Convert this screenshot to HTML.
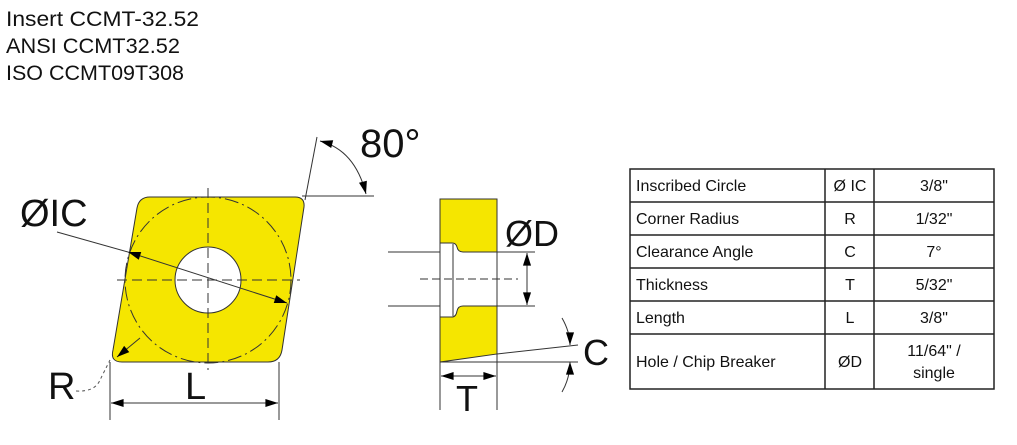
<!DOCTYPE html>
<html><head><meta charset="utf-8"><style>
html,body{margin:0;padding:0;background:#fff;width:1017px;height:445px;overflow:hidden}
svg{display:block}
</style></head><body>
<svg width="1017" height="445" viewBox="0 0 1017 445" xmlns="http://www.w3.org/2000/svg" font-family="Liberation Sans, DejaVu Sans, sans-serif">
<defs>
<marker id="a" viewBox="0 0 14 10" refX="14" refY="5" markerWidth="14" markerHeight="9" orient="auto-start-reverse" markerUnits="userSpaceOnUse"><path d="M0,0.5 L14,5 L0,9.5 z" fill="#000"/></marker>
</defs>
<g font-size="21" fill="#111">
<text x="6" y="26" textLength="193" lengthAdjust="spacingAndGlyphs">Insert CCMT-32.52</text>
<text x="6" y="53" textLength="174" lengthAdjust="spacingAndGlyphs">ANSI CCMT32.52</text>
<text x="6" y="80" textLength="178" lengthAdjust="spacingAndGlyphs">ISO CCMT09T308</text>
</g>
<!-- insert top view -->
<path d="M150,197 L295,197 Q305,197 304,207 L282,350 Q280,362 268,362 L122,362 Q110,362 113,350 L137,208 Q139,197 150,197 Z" fill="#f5e600" stroke="#333" stroke-width="1"/>
<circle cx="208" cy="280" r="83" fill="none" stroke="#333" stroke-width="1" stroke-dasharray="14,4,2,4"/>
<circle cx="208" cy="280" r="33" fill="#fff" stroke="#333" stroke-width="1"/>
<line x1="117" y1="280" x2="300" y2="280" stroke="#333" stroke-dasharray="10,5"/>
<line x1="208" y1="188" x2="208" y2="370" stroke="#333" stroke-dasharray="10,5"/>
<line x1="57" y1="232" x2="128" y2="252" stroke="#333"/>
<line x1="128" y1="252" x2="287" y2="303" stroke="#333" marker-start="url(#a)" marker-end="url(#a)"/>
<text x="20" y="226" font-size="38" fill="#111">ØIC</text>
<!-- R -->
<line x1="140" y1="338" x2="117" y2="357" stroke="#333" marker-end="url(#a)"/>
<path d="M76,391 Q95,392 100,380 Q104,372 110,360" fill="none" stroke="#555" stroke-dasharray="3,3"/>
<text x="48" y="399" font-size="38" fill="#111">R</text>
<!-- L -->
<line x1="110" y1="362" x2="110" y2="420" stroke="#333"/>
<line x1="279" y1="362" x2="279" y2="420" stroke="#333"/>
<line x1="111" y1="403" x2="278" y2="403" stroke="#333" marker-start="url(#a)" marker-end="url(#a)"/>
<text x="185" y="399" font-size="38" fill="#111">L</text>
<!-- 80 degrees -->
<line x1="305" y1="200" x2="317" y2="137" stroke="#333"/>
<line x1="302" y1="196" x2="374" y2="196" stroke="#333"/>
<path d="M320,141 Q355,150 366,194" fill="none" stroke="#333" marker-start="url(#a)" marker-end="url(#a)"/>
<text x="360" y="157" font-size="40" fill="#111">80°</text>
<!-- side view -->
<path d="M440,199 L497,199 L497,354 L440,362 Z" fill="#f5e600" stroke="#333"/>
<path d="M440,243 L452,243 Q456,243 457,247 Q458,252 463,252 L497,252 L497,306 L463,306 Q458,306 457,311 Q456,317 452,317 L440,317 Z" fill="#fff" stroke="#333"/>
<line x1="453" y1="244" x2="453" y2="316" stroke="#333"/>
<line x1="388" y1="252" x2="440" y2="252" stroke="#333"/>
<line x1="388" y1="306" x2="440" y2="306" stroke="#333"/>
<line x1="497" y1="252" x2="535" y2="252" stroke="#333"/>
<line x1="497" y1="306" x2="535" y2="306" stroke="#333"/>
<line x1="420" y1="279" x2="518" y2="279" stroke="#333" stroke-dasharray="8,4"/>
<line x1="527" y1="253" x2="527" y2="305" stroke="#333" marker-start="url(#a)" marker-end="url(#a)"/>
<text x="505" y="246" font-size="36" fill="#111">ØD</text>
<!-- C -->
<line x1="497" y1="354" x2="578" y2="345" stroke="#333"/>
<line x1="440" y1="362" x2="578" y2="362" stroke="#333"/>
<path d="M562,318 Q570,332 570,345" fill="none" stroke="#333" marker-end="url(#a)"/>
<path d="M562,392 Q570,378 570,362" fill="none" stroke="#333" marker-end="url(#a)"/>
<text x="583" y="365" font-size="36" fill="#111">C</text>
<!-- T -->
<line x1="440" y1="362" x2="440" y2="410" stroke="#333"/>
<line x1="497" y1="354" x2="497" y2="410" stroke="#333"/>
<line x1="441" y1="376" x2="496" y2="376" stroke="#333" marker-start="url(#a)" marker-end="url(#a)"/>
<text x="456" y="411" font-size="36" fill="#111">T</text>
<!-- table -->
<g stroke="#222" stroke-width="1.5" fill="none">
<rect x="630" y="169" width="364" height="220"/>
<line x1="630" y1="202" x2="994" y2="202"/>
<line x1="630" y1="235" x2="994" y2="235"/>
<line x1="630" y1="268" x2="994" y2="268"/>
<line x1="630" y1="301" x2="994" y2="301"/>
<line x1="630" y1="334" x2="994" y2="334"/>
<line x1="825" y1="169" x2="825" y2="389"/>
<line x1="874" y1="169" x2="874" y2="389"/>
</g>
<g font-size="16" fill="#111">
<text x="636" y="191">Inscribed Circle</text>
<text x="636" y="224">Corner Radius</text>
<text x="636" y="257">Clearance Angle</text>
<text x="636" y="290">Thickness</text>
<text x="636" y="323">Length</text>
<text x="636" y="367">Hole / Chip Breaker</text>
</g>
<g font-size="16" fill="#111" text-anchor="middle">
<text x="850" y="191">Ø IC</text>
<text x="850" y="224">R</text>
<text x="850" y="257">C</text>
<text x="850" y="290">T</text>
<text x="850" y="323">L</text>
<text x="850" y="367">ØD</text>
<text x="934" y="191">3/8"</text>
<text x="934" y="224">1/32"</text>
<text x="934" y="257">7°</text>
<text x="934" y="290">5/32"</text>
<text x="934" y="323">3/8"</text>
<text x="934" y="356">11/64" /</text>
<text x="934" y="378">single</text>
</g>
</svg>
</body></html>
